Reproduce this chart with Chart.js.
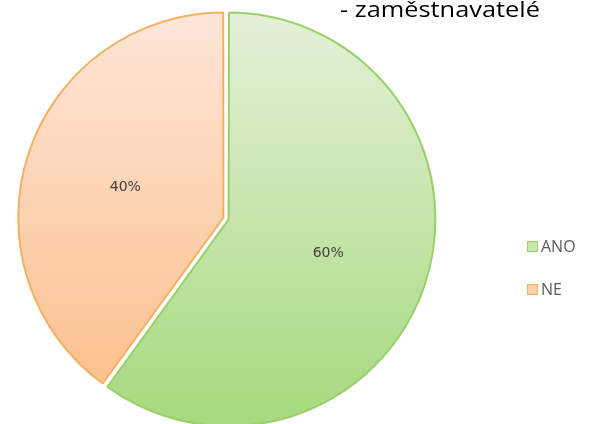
<!DOCTYPE html>
<html>
<head>
<meta charset="utf-8">
<script src="https://cdn.jsdelivr.net/npm/chart.js@4/dist/chart.umd.min.js"></script>
<style>
  html, body { margin: 0; padding: 0; background: #fff; }
  #wrap { position: relative; width: 602px; height: 424px; overflow: hidden; }
  #c { position: absolute; left: 0; top: 0; }
  #title { position: absolute; left: 340px; top: -5px; font-family: "Open Sans", sans-serif; font-size: 21px; color: #000; white-space: nowrap; transform-origin: 0 0; }
  .leg { position: absolute; left: 527px; font-family: "Open Sans", sans-serif; font-size: 16px; color: #595959; display: flex; align-items: center; }
  .leg span.box { display: inline-block; width: 9px; height: 9px; margin-right: 3px; border: 1px solid; }
</style>
</head>
<body>
<div id="wrap">
  <canvas id="c" width="602" height="424"></canvas>
  <div id="title"></div>
  <div id="legend"></div>
</div>
<script>
const titleText = "- zaměstnavatelé";
const categories = ["ANO", "NE"];
const values = [60, 40];
const labelsText = ["60%", "40%"];
const gradTop = ["#e4f0d8", "#fde6d8"];
const gradBottom = ["#a6da7e", "#fbbd87"];
const borderColors = ["#9bcf6c", "#f3b063"];
const legendFill = ["#c9e6ae", "#fcd3b0"];

const titleEl = document.getElementById('title');
titleEl.textContent = titleText;
const tw = titleEl.getBoundingClientRect().width;
titleEl.style.transform = 'scaleX(' + (200 / tw) + ')';

const legendEl = document.getElementById('legend');
const legendTops = [235, 278];
categories.forEach((cat, i) => {
  const d = document.createElement('div');
  d.className = 'leg';
  d.style.top = legendTops[i] + 'px';
  const b = document.createElement('span');
  b.className = 'box';
  b.style.background = legendFill[i];
  b.style.borderColor = borderColors[i];
  d.appendChild(b);
  d.appendChild(document.createTextNode(cat));
  legendEl.appendChild(d);
});

const pctLabels = {
  id: 'pctLabels',
  afterDatasetsDraw(chart) {
    const ctx = chart.ctx;
    const meta = chart.getDatasetMeta(0);
    ctx.save();
    ctx.font = '14px "DejaVu Sans", sans-serif';
    ctx.fillStyle = '#404040';
    ctx.textAlign = 'center';
    ctx.textBaseline = 'middle';
    meta.data.forEach((arc, i) => {
      const p = arc.getProps(['x','y','startAngle','endAngle','outerRadius','circumference'], true);
      const mid = (p.startAngle + p.endAngle) / 2;
      const off = (arc.options.offset || 0) / 4;
      const shift = off * (2 - Math.sin(Math.min(Math.PI, p.circumference)));
      const r = p.outerRadius * 0.5 + shift;
      ctx.fillText(labelsText[i], p.x + Math.cos(mid) * r, p.y + Math.sin(mid) * r + 2);
    });
    ctx.restore();
  }
};

function grad(i) {
  return (context) => {
    const chart = context.chart;
    const g = chart.ctx.createLinearGradient(0, 14, 0, 424);
    g.addColorStop(0, gradTop[i]);
    g.addColorStop(1, gradBottom[i]);
    return g;
  };
}

new Chart(document.getElementById('c'), {
  type: 'pie',
  data: {
    labels: categories,
    datasets: [{
      data: values,
      backgroundColor: (ctx) => grad(ctx.dataIndex)(ctx),
      borderColor: borderColors,
      borderWidth: 2,
      offset: 11,
      radius: 204
    }]
  },
  options: {
    responsive: false,
    animation: false,
    layout: { padding: { left: 0, right: 150, top: 13, bottom: 0 } },
    plugins: { legend: { display: false }, tooltip: { enabled: false }, title: { display: false } }
  },
  plugins: [pctLabels]
});
</script>
</body>
</html>
